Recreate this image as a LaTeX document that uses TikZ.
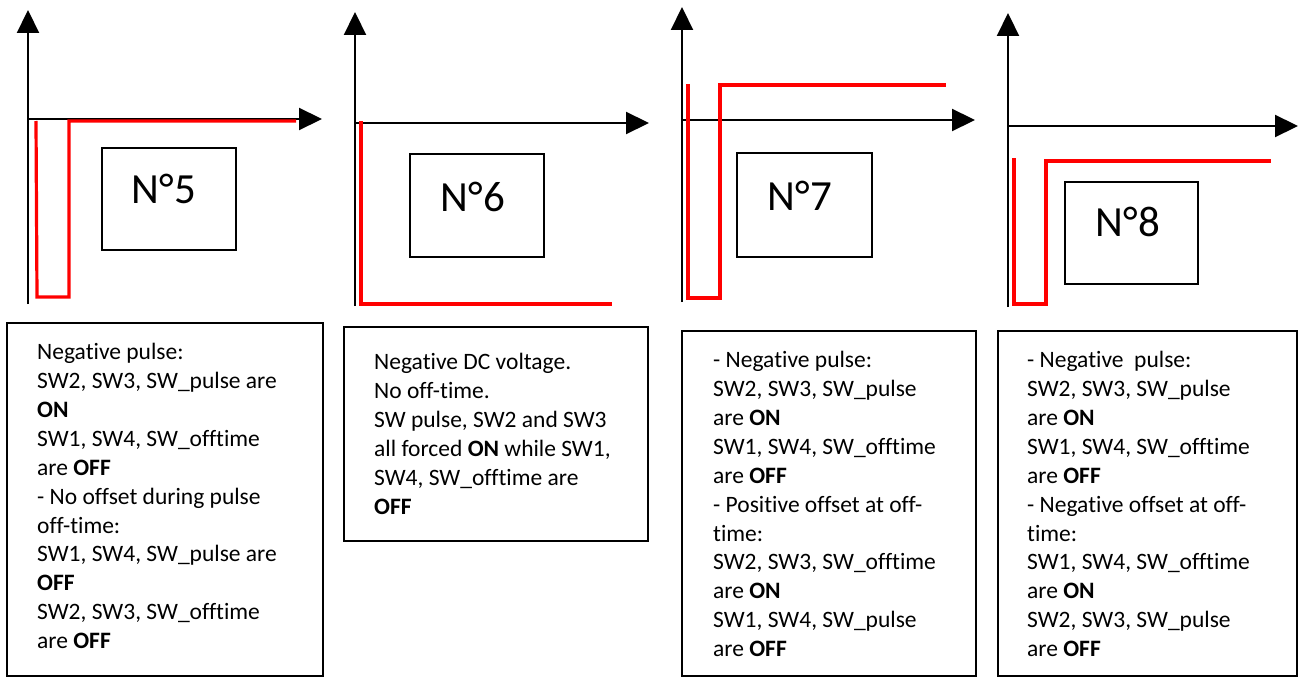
\documentclass[tikz,border=0pt]{standalone}
\usepackage{fontspec}
\setmainfont[Ligatures=CommonOff]{Carlito}
\usetikzlibrary{arrows.meta}

\begin{document}
\begin{tikzpicture}[x=1pt, y=-1pt,
    axis/.style={line width=2.2pt, -{Triangle[length=23pt, width=22pt]}},
    wave/.style={red, line width=3.2pt},
    frame/.style={line width=1.8pt},
    caption/.style={inner sep=0, anchor=base, font=\fontsize{43}{50}\selectfont},
    notes/.style={inner sep=0, anchor=north west, align=left, font=\fontsize{23.5}{28.85}\selectfont}]
    \useasboundingbox (0,0) rectangle (1299,677);

    % N5
    \draw[axis] (28,304) -- (28,10);
    \draw[axis] (28,119) -- (322,119);
    \draw[wave] (36,121) -- (37,297) -- (69,297) -- (69,121) -- (296,121);
    \draw[frame] (102,148) rectangle (236,250);
    \node[caption] (c5) at (164,203.5) {N°5};

    % N6
    \draw[axis] (355,306) -- (355,12);
    \draw[axis] (355,123) -- (649,123);
    \draw[wave] (361,121) -- (361,304) -- (612,304);
    \draw[frame] (410,154) rectangle (544,257);
    \node[caption] (c6) at (473,211.5) {N°6};

    % N7
    \draw[axis] (682,302) -- (682,7);
    \draw[axis] (682,120) -- (975,120);
    \draw[wave] (688,84) -- (688,298) -- (720,298) -- (720,85) -- (946,85);
    \draw[frame] (737,153) rectangle (872,257);
    \node[caption] (c7) at (800,210.5) {N°7};

    % N8
    \draw[axis] (1008,307) -- (1008,13);
    \draw[axis] (1008,126) -- (1298,126);
    \draw[wave] (1014,158) -- (1014,304) -- (1046,304) -- (1046,161) -- (1271,161);
    \draw[frame] (1065,182) rectangle (1198,284);
    \node[caption] (c8) at (1128,236.5) {N°8};

    % text boxes
    \draw[frame] (7,323) rectangle (323,676);
    \node[notes] (t5) at (37,339.5) {\strut Negative pulse:\\
        SW2, SW3, SW\_pulse are\\ \textbf{ON}\\
        SW1, SW4, SW\_offtime\\ are \textbf{OFF}\\
        - No offset during pulse\\ off-time:\\
        SW1, SW4, SW\_pulse are\\ \textbf{OFF}\\
        SW2, SW3, SW\_offtime\\ are \textbf{OFF}};

    \draw[frame] (344,327) rectangle (648,541);
    \node[notes] (t6) at (374,349.5) {\strut Negative DC voltage.\\
        No off-time.\\
        SW pulse, SW2 and SW3\\
        all forced \textbf{ON} while SW1,\\
        SW4, SW\_offtime are\\ \textbf{OFF}};

    \draw[frame] (682,331) rectangle (976,676);
    \node[notes] (t7) at (713,347.5) {\strut - Negative pulse:\\
        SW2, SW3, SW\_pulse\\ are \textbf{ON}\\
        SW1, SW4, SW\_offtime\\ are \textbf{OFF}\\
        - Positive offset at off-\\ time:\\
        SW2, SW3, SW\_offtime\\ are \textbf{ON}\\
        SW1, SW4, SW\_pulse\\ are \textbf{OFF}};

    \draw[frame] (998,331) rectangle (1297,676);
    \node[notes] (t8) at (1027,347.5) {\strut - Negative\ \ pulse:\\
        SW2, SW3, SW\_pulse\\ are \textbf{ON}\\
        SW1, SW4, SW\_offtime\\ are \textbf{OFF}\\
        - Negative offset at off-\\ time:\\
        SW1, SW4, SW\_offtime\\ are \textbf{ON}\\
        SW2, SW3, SW\_pulse\\ are \textbf{OFF}};
\end{tikzpicture}
\end{document}
